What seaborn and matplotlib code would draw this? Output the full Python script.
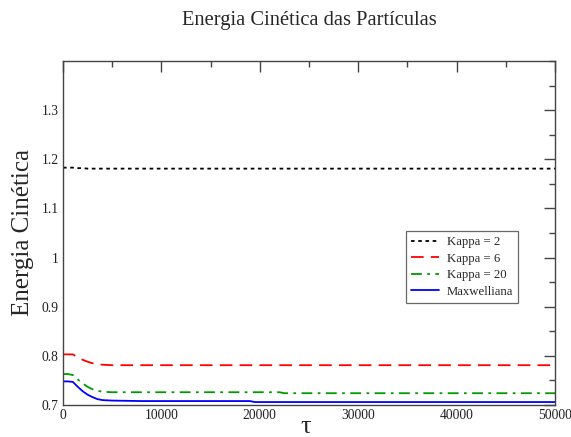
import matplotlib
matplotlib.use("Agg")
import matplotlib.pyplot as plt
import seaborn as sns
import pandas as pd
from matplotlib.ticker import MultipleLocator, FixedLocator

# Time axis (tau) and kinetic energy for each distribution
tau = [0, 500, 1000, 1500, 2000, 2500, 3000, 3500, 4000, 5000, 8000,
       19000, 19500, 22000, 22500, 30000, 40000, 50000]

kappa2 = [1.183, 1.183, 1.183, 1.182, 1.182, 1.181, 1.181, 1.181, 1.181, 1.181,
          1.181, 1.181, 1.181, 1.181, 1.181, 1.181, 1.181, 1.181]
kappa6 = [0.803, 0.803, 0.803, 0.797, 0.792, 0.788, 0.785, 0.783, 0.782, 0.781,
          0.781, 0.781, 0.781, 0.781, 0.781, 0.781, 0.781, 0.781]
kappa20 = [0.763, 0.763, 0.761, 0.752, 0.744, 0.737, 0.732, 0.729, 0.727, 0.726,
           0.726, 0.726, 0.726, 0.726, 0.724, 0.724, 0.724, 0.724]
maxwell = [0.748, 0.748, 0.747, 0.737, 0.728, 0.721, 0.716, 0.712, 0.710, 0.709,
           0.708, 0.708, 0.706, 0.706, 0.706, 0.706, 0.706, 0.706]

labels = ["Kappa = 2", "Kappa = 6", "Kappa = 20", "Maxwelliana"]
colors = ["black", "#ff0000", "#009900", "#0000ff"]
styles = [(0, (2, 2)), (0, (7, 4)), (0, (6, 3, 1.5, 3)), "-"]

df = pd.DataFrame({"tau": tau, labels[0]: kappa2, labels[1]: kappa6,
                   labels[2]: kappa20, labels[3]: maxwell})

sns.set_theme(style="white")
plt.rcParams["font.family"] = ["Liberation Serif", "DejaVu Serif"]

fig = plt.figure(figsize=(5.71, 4.37), dpi=100)
ax = fig.add_axes([63 / 571, 1 - 405 / 437, (555 - 63) / 571, (405 - 61) / 437])

for lab, col, ls in zip(labels, colors, styles):
    sns.lineplot(data=df, x="tau", y=lab, ax=ax, color=col, linestyle=ls,
                 linewidth=1.3, label=lab)

ax.set_xlim(0, 50000)
ax.set_ylim(0.7, 1.4)
ax.xaxis.set_major_locator(MultipleLocator(10000))
ax.xaxis.set_minor_locator(MultipleLocator(5000))
ax.yaxis.set_major_locator(FixedLocator([0.7, 0.8, 0.9, 1.0, 1.1, 1.2, 1.3]))
ax.yaxis.set_minor_locator(MultipleLocator(0.05))
ax.set_yticklabels(["0.7", "0.8", "0.9", "1", "1.1", "1.2", "1.3"])

ax.tick_params(which="both", direction="in", top=True, right=True,
               labelsize=9.8, labelcolor="#222222", color="#444444", pad=3)
ax.tick_params(which="major", length=8, width=1.0)
ax.tick_params(which="minor", length=4.5, width=1.0)
for s in ax.spines.values():
    s.set_color("#444444")
    s.set_linewidth(1.0)

ax.set_xlabel("τ", fontsize=19)
ax.xaxis.label.set_va("baseline")
ax.xaxis.set_label_coords(0.494, -(433 - 405) / 344)
ax.set_ylabel("Energia Cinética", fontsize=18)
ax.yaxis.label.set_va("center")
ax.yaxis.set_label_coords(-(63 - 23) / 492, 0.5)
fig.text((63 + 555) / 2 / 571, 1 - 20 / 437, "Energia Cinética das Partículas",
         ha="center", va="center", fontsize=14.8)

leg = ax.legend(loc="upper left", bbox_to_anchor=((406 - 63) / 492, (405 - 231) / 344),
                fontsize=9.2, frameon=True, fancybox=False, handlelength=2.2,
                borderpad=0.4, labelspacing=0.35, handletextpad=0.6,
                borderaxespad=0)
leg.get_frame().set_edgecolor("#444444")
leg.get_frame().set_linewidth(0.9)

fig.savefig("out.png", dpi=100, facecolor="white")
